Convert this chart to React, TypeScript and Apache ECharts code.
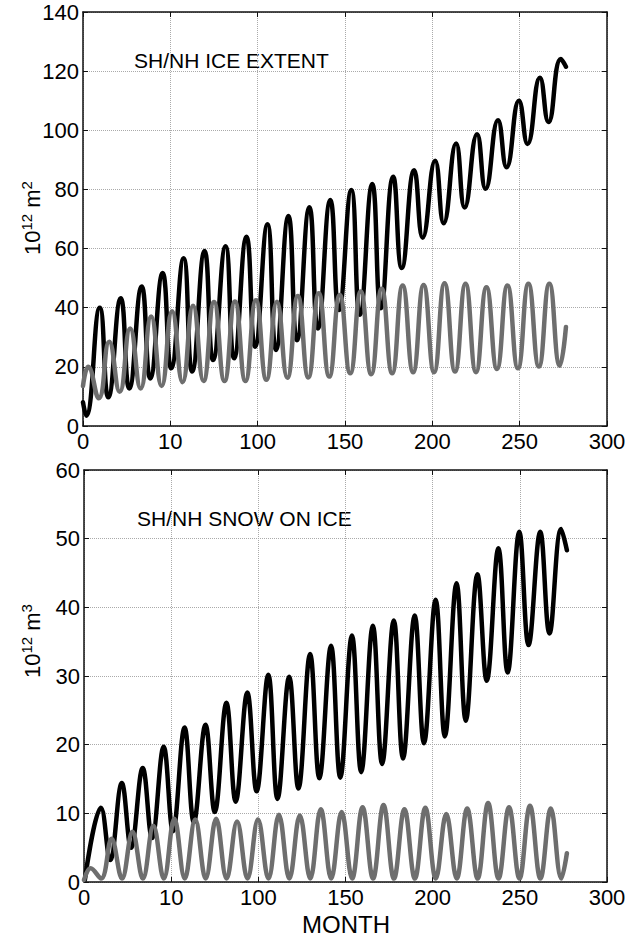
import React, { useEffect, useRef } from "react";
import * as echarts from "echarts";

// ---- tick labels (as printed in the figure) ----
const X_TICK_LABELS = ["0", "10", "100", "150", "200", "250", "300"];

// ---- Panel 1: ice extent (10^12 m^2), yearly maxima / minima ----
// SH (black): maxima around Sept, minima around Feb/Mar
const ICE_SH_PEAK_MONTH = 9.6;
const ICE_SH_TROUGH_MONTH = 14.5;
const ICE_SH_START: number[][] = [[0, 8], [1.8, 3.5]];
const ICE_SH_PEAKS = [40, 43.2, 47.2, 51.7, 56.7, 59.2, 60.8, 64, 68.2, 71, 74, 76.4, 79.8, 81.8, 84.3, 86.5, 89.7, 95.5, 98.7, 103.4, 110, 117.8, 124.1];
const ICE_SH_TROUGHS = [9.7, 12.7, 16.1, 19.5, 18.4, 22.3, 22.9, 26.8, 25.7, 29, 33, 39.2, 37.6, 39.8, 53.4, 63.7, 68.6, 73.9, 80.2, 87.5, 95.4, 102.8];
const ICE_SH_END: number[][] = [[276.5, 121.5]];

// NH (grey): maxima around March, minima around Sept
const ICE_NH_PEAK_MONTH = 3;
const ICE_NH_TROUGH_MONTH = 9;
const ICE_NH_START: number[][] = [[0, 13.5]];
const ICE_NH_PEAKS = [20, 28.5, 33, 37, 38.8, 40.7, 41.9, 42.1, 42.5, 42, 44, 44.9, 44.3, 45.5, 46.4, 47.5, 47.7, 48.3, 48.1, 46.9, 47.5, 48.1, 48.1];
const ICE_NH_TROUGHS = [9.4, 11.6, 12.7, 13.5, 14.8, 15.2, 15.2, 15.2, 15.6, 16.3, 16.4, 16.7, 17.8, 17.5, 17.8, 18.2, 18.2, 18.4, 18.2, 19.3, 19.5, 20.1, 20.4];
const ICE_NH_END: number[][] = [[276.5, 33.5]];

// ---- Panel 2: snow on ice (10^12 m^3) ----
const SNOW_SH_PEAK_MONTH = 9.7;
const SNOW_SH_TROUGH_MONTH = 15;
const SNOW_SH_START: number[][] = [[0.5, 0.3]];
const SNOW_SH_PEAKS = [10.8, 14.4, 16.6, 19.7, 22.5, 22.9, 26.1, 27.6, 30.2, 29.9, 33.2, 34.4, 35.9, 37.3, 38.1, 38.8, 41.1, 43.5, 44.8, 48.6, 51.0, 51.0, 51.4];
const SNOW_SH_TROUGHS = [3.2, 5.0, 6.4, 7.4, 8.7, 10.2, 11.7, 13.2, 12.1, 13.6, 15.1, 15.2, 16.0, 17.2, 18.0, 20.2, 21.2, 23.5, 29.3, 30.5, 34.5, 36.2];
const SNOW_SH_END: number[][] = [[277, 48.3]];

const SNOW_NH_PEAK_MONTH = 3.8;
const SNOW_NH_TROUGH_MONTH = 9.8;
const SNOW_NH_START: number[][] = [[0, 0.3]];
const SNOW_NH_PEAKS = [2.0, 6.3, 7.3, 8.2, 9.2, 9.1, 9.2, 8.8, 9.1, 9.8, 9.7, 10.6, 10.2, 10.9, 11.2, 10.6, 10.8, 9.9, 10.7, 11.5, 10.9, 11.1, 10.7];
const SNOW_NH_TROUGHS = [0.5, 0.5, 0.5, 0.5, 0.5, 0.5, 0.5, 0.5, 0.5, 0.5, 0.5, 0.5, 0.5, 0.5, 0.5, 0.5, 0.5, 0.5, 0.5, 0.5, 0.5, 0.5, 0.5];
const SNOW_NH_END: number[][] = [[277, 4.2]];

const FONT = "'Liberation Sans', Arial, Helvetica, sans-serif";
const BLACK = "#000000";
const GREY = "#6e6e6e";

function buildCycle(
  start: number[][],
  peakMonth: number,
  peaks: number[],
  troughMonth: number,
  troughs: number[],
  end: number[][]
): number[][] {
  const pts: number[][] = [];
  peaks.forEach((v, i) => pts.push([peakMonth + 12 * i, v]));
  troughs.forEach((v, i) => pts.push([troughMonth + 12 * i, v]));
  pts.sort((a, b) => a[0] - b[0]);
  return [...start, ...pts, ...end];
}

function xAxes(gridIndex: number) {
  const common = {
    gridIndex,
    type: "value" as const,
    min: 0,
    max: 300,
    interval: 50,
    axisLine: { show: true, onZero: false, lineStyle: { color: "#111", width: 1.5 } },
    axisTick: { show: true, inside: true, length: 5, lineStyle: { color: "#111", width: 1 } },
  };
  return [
    {
      ...common,
      position: "bottom",
      axisLabel: {
        show: true,
        margin: 4,
        fontSize: 22,
        fontFamily: FONT,
        color: "#000",
        formatter: (v: number) => X_TICK_LABELS[Math.round(v / 50)] ?? "",
      },
      splitLine: { show: true, lineStyle: { type: "dotted", color: "#aaaaaa", width: 1 } },
    },
    {
      ...common,
      position: "top",
      axisLabel: { show: false },
      splitLine: { show: false },
    },
  ];
}

function yAxes(gridIndex: number, max: number, interval: number) {
  const common = {
    gridIndex,
    type: "value" as const,
    min: 0,
    max,
    interval,
    axisLine: { show: true, onZero: false, lineStyle: { color: "#111", width: 1.5 } },
    axisTick: { show: true, inside: true, length: 5, lineStyle: { color: "#111", width: 1 } },
  };
  return [
    {
      ...common,
      position: "left",
      axisLabel: { show: true, margin: 4, fontSize: 22, fontFamily: FONT, color: "#000" },
      splitLine: { show: true, lineStyle: { type: "dotted", color: "#aaaaaa", width: 1 } },
    },
    {
      ...common,
      position: "right",
      axisLabel: { show: false },
      splitLine: { show: false },
    },
  ];
}

function lineSeries(name: string, xi: number, yi: number, data: number[][], color: string, smooth: number) {
  return {
    name,
    type: "line",
    xAxisIndex: xi,
    yAxisIndex: yi,
    data,
    smooth,
    showSymbol: false,
    symbol: "none",
    lineStyle: { color, width: 4.5, cap: "round", join: "round" },
    clip: true,
  };
}

function unitLabel(x: number, y: number, power: string) {
  return {
    type: "text",
    x,
    y,
    rotation: Math.PI / 2,
    style: {
      text: `{b|10}{s|12}{b| m}{s|${power}}`,
      fill: "#000",
      align: "center",
      verticalAlign: "middle",
      rich: {
        b: { fontSize: 22, fontFamily: FONT, fill: "#000", verticalAlign: "bottom", lineHeight: 25 },
        s: { fontSize: 15, fontFamily: FONT, fill: "#000", verticalAlign: "top", lineHeight: 15 },
      },
    },
  };
}

export default function App() {
  const ref = useRef<HTMLDivElement>(null);

  useEffect(() => {
    if (!ref.current) return;
    const chart = echarts.init(ref.current, undefined, { renderer: "svg" });

    const iceSh = buildCycle(ICE_SH_START, ICE_SH_PEAK_MONTH, ICE_SH_PEAKS, ICE_SH_TROUGH_MONTH, ICE_SH_TROUGHS, ICE_SH_END);
    const iceNh = buildCycle(ICE_NH_START, ICE_NH_PEAK_MONTH, ICE_NH_PEAKS, ICE_NH_TROUGH_MONTH, ICE_NH_TROUGHS, ICE_NH_END);
    const snowSh = buildCycle(SNOW_SH_START, SNOW_SH_PEAK_MONTH, SNOW_SH_PEAKS, SNOW_SH_TROUGH_MONTH, SNOW_SH_TROUGHS, SNOW_SH_END);
    const snowNh = buildCycle(SNOW_NH_START, SNOW_NH_PEAK_MONTH, SNOW_NH_PEAKS, SNOW_NH_TROUGH_MONTH, SNOW_NH_TROUGHS, SNOW_NH_END);

    chart.setOption({
      animation: false,
      backgroundColor: "#ffffff",
      grid: [
        { left: 83, top: 12, width: 524, height: 414, show: false },
        { left: 84, top: 470, width: 523, height: 412, show: false },
      ],
      xAxis: [...xAxes(0), ...xAxes(1)],
      yAxis: [...yAxes(0, 140, 20), ...yAxes(1, 60, 10)],
      series: [
        lineSeries("SH ice extent", 0, 0, iceSh, BLACK, 0.5),
        lineSeries("NH ice extent", 0, 0, iceNh, GREY, 0.5),
        lineSeries("SH snow on ice", 2, 2, snowSh, BLACK, 0.4),
        lineSeries("NH snow on ice", 2, 2, snowNh, GREY, 0.4),
      ],
      graphic: [
        {
          type: "text",
          x: 134,
          y: 60,
          style: { text: "SH/NH ICE EXTENT", font: `21px ${FONT}`, fill: "#000", align: "left", verticalAlign: "middle" },
        },
        {
          type: "text",
          x: 137,
          y: 518,
          style: { text: "SH/NH SNOW ON ICE", font: `21px ${FONT}`, fill: "#000", align: "left", verticalAlign: "middle" },
        },
        unitLabel(31, 218, "2"),
        unitLabel(31, 641, "3"),
        {
          type: "text",
          x: 346,
          y: 924,
          style: { text: "MONTH", font: `24px ${FONT}`, fill: "#000", align: "center", verticalAlign: "middle" },
        },
      ],
    });

    return () => chart.dispose();
  }, []);

  return (
    <div
      ref={ref}
      style={{ position: "absolute", left: 0, top: 0, width: 629, height: 939, background: "#fff" }}
    />
  );
}
